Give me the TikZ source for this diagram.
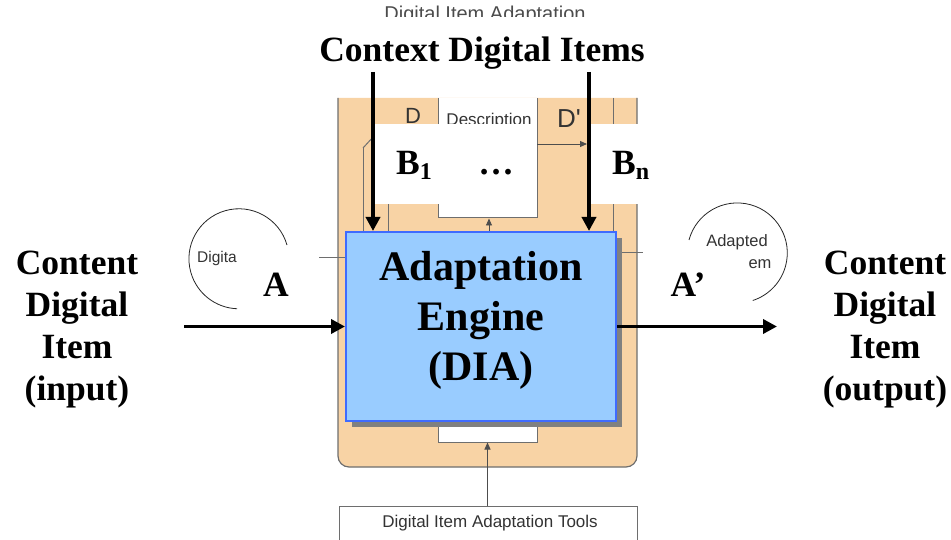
\documentclass[tikz,border=0pt]{standalone}
\usepackage{fontspec}
\setmainfont{Liberation Serif}
\newfontfamily\lsans{Liberation Sans}
\usetikzlibrary{arrows.meta}
\definecolor{peach}{HTML}{F8D3A5}
\definecolor{edgegray}{HTML}{6E6E6E}
\definecolor{bluefill}{HTML}{99CCFF}
\definecolor{blueedge}{HTML}{3F6BFF}
\definecolor{remtext}{HTML}{333333}
\tikzset{
  bigarrow/.style={line width=3.5pt,-{Triangle[length=14pt,width=14pt]}},
  thinarrow/.style={edgegray!70!black,line width=0.9pt,-{Triangle[length=7pt,width=6pt]}},
  thinline/.style={edgegray,line width=1pt},
  bigtext/.style={font=\bfseries\fontsize{35.5}{42}\selectfont,align=center,inner sep=0pt},
  remnant/.style={font=\lsans\fontsize{17}{19}\selectfont,text=remtext,inner sep=0pt},
  whitebox/.style={fill=white,draw=edgegray,line width=1pt},
}
\begin{document}
\begin{tikzpicture}[x=1pt,y=-1pt]
\useasboundingbox (0,0) rectangle (951,540);
% top remnant title (cut off)
\node[remnant,font=\lsans\fontsize{20}{22}\selectfont,text=black!70] (toptitle) at (485,15) {Digital Item Adaptation};
\fill[white] (360,17.5) rectangle (620,40);
% orange container
\draw[fill=peach,draw=edgegray,line width=1.2pt,rounded corners=11pt] (338,98) -- (338,467) -- (637,467) -- (637,98);
% inner lines
\draw[thinline] (363,148) -- (363,240);
\draw[thinline] (363,148) -- (374,136);
\draw[thinline] (388,200) -- (388,240);
\draw[thinline] (613,98) -- (613,240);
\draw[thinline] (319,258) -- (345,258);
\draw[thinline] (618,253) -- (643,253);
% description box
\fill[white] (438,98) rectangle (537,218);
\draw[thinline] (438,98) -- (438,218) -- (537,218) -- (537,98);
\node[remnant] (desctext) at (489,121) {Description};
\node[remnant,font=\lsans\fontsize{22}{24}\selectfont] (dtext) at (413,116) {D};
\node[remnant,font=\lsans\fontsize{26}{28}\selectfont] (dptext) at (569,119) {D'};
\coordinate (dpin) at (587,144);
\draw[thinarrow] (537,144) -- (dpin);
% white overlays
\fill[white] (375,124) rectangle (536.5,204);
\fill[white] (589,124) rectangle (662,204);
% bottom white box
\node[whitebox,minimum width=99pt,minimum height=26pt,inner sep=0pt] (lowbox) at (487.5,429) {};
% engine with shadow
\fill[gray] (352,238) rectangle (622,427);
\node[fill=bluefill,draw=blueedge,line width=2pt,minimum width=270pt,minimum height=189pt,inner sep=0pt] (engine) at (481,326.5) {};
\node[bigtext,font=\bfseries\fontsize{42}{50}\selectfont] (enginetext) at (481,320) {Adaptation\\Engine\\(DIA)};
% tools box
\node[whitebox,minimum width=298pt,minimum height=42pt,inner sep=0pt] (tools) at (488,527) {};
\node[remnant,text=black!80] (toolstext) at (490,523) {Digital Item Adaptation Tools};
\draw[thinarrow] (tools.north -| lowbox) -- (lowbox.south);
\draw[thinarrow] (engine.north -| 489,0) -- (489,218.5);
% remnant circles
\draw[black!85,line width=0.8pt] (287,245) arc[start angle=-16,end angle=-268,radius=50];
\node[remnant,font=\lsans\fontsize{15.5}{17}\selectfont] (digita) at (217,258) {Digita};
\draw[black!85,line width=0.8pt] (689,240) arc[start angle=-165,end angle=72,radius=50];
\node[remnant,font=\lsans\fontsize{16.5}{18}\selectfont] (adapted) at (737,242) {Adapted};
\node[remnant,font=\lsans\fontsize{16.5}{18}\selectfont] (emtext) at (760,264) {em};
% main labels
\node[bigtext,anchor=base] (context) at (482,62) {Context Digital Items};
\node[bigtext,anchor=base west] (b1) at (396,175) {B\raisebox{-5pt}{\fontsize{24}{24}\selectfont 1}};
\node[bigtext,anchor=base] (dots) at (496,175) {\dots};
\node[bigtext,anchor=base west] (bn) at (612,175) {B\raisebox{-5pt}{\fontsize{24}{24}\selectfont n}};
\node[bigtext,anchor=base] (alab) at (276,297) {A};
\node[bigtext,anchor=base] (aplab) at (688,297) {A’};
\node[bigtext,anchor=base] (cin) at (77,400) {Content\\Digital\\Item\\(input)};
\node[bigtext,anchor=base] (cout) at (885,400) {Content\\Digital\\Item\\(output)};
% thick arrows
\coordinate (inL) at (184,326.5);
\coordinate (outR) at (777,326.5);
\coordinate (ctxL) at (373,72);
\coordinate (ctxR) at (589,72);
\draw[bigarrow] (inL) -- (engine.west |- inL);
\draw[bigarrow] (engine.east |- outR) -- (outR);
\draw[bigarrow] (ctxL) -- (ctxL |- engine.north);
\draw[bigarrow] (ctxR) -- (ctxR |- engine.north);
\end{tikzpicture}
\end{document}
